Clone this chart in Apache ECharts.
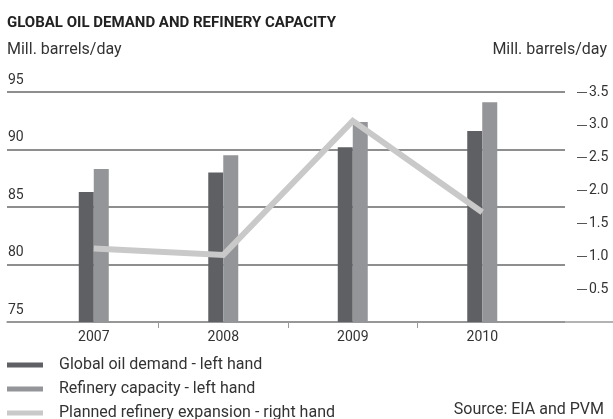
<!DOCTYPE html>
<html>
<head>
<meta charset="utf-8">
<script src="https://cdn.jsdelivr.net/npm/echarts@6/dist/echarts.min.js"></script>
<style>
  html, body { margin: 0; padding: 0; background: #fff; }
  #chart { width: 613px; height: 419px; }
</style>
</head>
<body>
<div id="chart"></div>
<script>
// Years on the category axis
const years = ['2007', '2008', '2009', '2010'];
// Mill. barrels/day, left hand axis
const oilDemand = [86.3, 88.0, 90.2, 91.6];
const refineryCapacity = [88.3, 89.5, 92.4, 94.1];
// Mill. barrels/day, right hand axis
const plannedExpansion = [1.12, 1.02, 3.06, 1.67];
// Axis ticks
const leftTicks = [75, 80, 85, 90, 95];
const rightTicks = [0.5, 1.0, 1.5, 2.0, 2.5, 3.0, 3.5];

const FONT = 'Roboto, "Noto Sans", sans-serif';
const TEXT = '#333333';
const GRID_LINE = '#8e8e8e';
const C_DEMAND = '#5f6063';
const C_CAPACITY = '#949598';
const C_EXPANSION = '#c9c9c9';

// Years sit at x = 0,1,2,3 on a value axis so the plot area can run past the last band
const X_MIN = -0.67;
const X_MAX_PLOT = 3.639;
const X_MAX_AXIS = 4.009;

const pairs = arr => arr.map((v, i) => [i, v]);

const chart = echarts.init(document.getElementById('chart'), null, { renderer: 'canvas' });

chart.setOption({
  animation: false,
  textStyle: { fontFamily: FONT },
  title: [
    { text: 'GLOBAL OIL DEMAND AND REFINERY CAPACITY', left: 7, top: 16, padding: 0,
      textStyle: { fontFamily: FONT, fontSize: 15, fontWeight: 'bold', color: '#222' } },
    { text: 'Mill. barrels/day', left: 7, top: 42, padding: 0,
      textStyle: { fontFamily: FONT, fontSize: 16, fontWeight: 'normal', color: TEXT } },
    { text: 'Mill. barrels/day', right: 6, top: 42, padding: 0,
      textStyle: { fontFamily: FONT, fontSize: 16, fontWeight: 'normal', color: TEXT } },
    { text: 'Source: EIA and PVM', right: 9, top: 402, padding: 0,
      textStyle: { fontFamily: FONT, fontSize: 16, fontWeight: 'normal', color: TEXT } }
  ],
  legend: {
    orient: 'vertical',
    left: 7,
    top: 357,
    height: 90,
    padding: 0,
    itemWidth: 36,
    itemHeight: 5,
    itemGap: 8,
    icon: 'rect',
    textStyle: { fontFamily: FONT, fontSize: 16, color: TEXT, lineHeight: 16, padding: [0, 0, 0, 11] },
    data: [
      { name: 'Global oil demand - left hand', icon: 'rect' },
      { name: 'Refinery capacity - left hand', icon: 'rect' },
      { name: 'Planned refinery expansion - right hand', icon: 'rect' }
    ]
  },
  grid: [
    { left: 7, right: 48, top: 92, bottom: 97 },
    { left: 7, right: 0, top: 92, bottom: 97 }
  ],
  xAxis: [
    { type: 'value', gridIndex: 0, min: X_MIN, max: X_MAX_PLOT, show: false },
    {
      type: 'value', gridIndex: 1, min: X_MIN, max: X_MAX_AXIS,
      axisLine: { show: true, onZero: false, lineStyle: { color: '#9a9a9a', width: 1.5 } },
      axisTick: { show: true, length: 6, customValues: [0.5, 1.5, 2.5], lineStyle: { color: '#9a9a9a', width: 1 } },
      axisLabel: {
        show: true, margin: 8, fontSize: 14, color: TEXT, fontFamily: FONT,
        customValues: [0, 1, 2, 3],
        formatter: v => years[Math.round(v)]
      },
      splitLine: { show: false }
    }
  ],
  yAxis: [
    {
      type: 'value', gridIndex: 0, position: 'left', min: 75, max: 95, interval: 5,
      axisLine: { show: false },
      axisTick: { show: false },
      axisLabel: {
        inside: true, margin: 1, fontSize: 14, color: TEXT, fontFamily: FONT,
        verticalAlign: 'bottom', padding: [0, 0, 5, 0],
        customValues: leftTicks
      },
      splitLine: { show: true, lineStyle: { color: GRID_LINE, width: 2 } }
    },
    {
      type: 'value', gridIndex: 0, position: 'right', offset: 12, min: 0, max: 3.5,
      axisLine: { show: false },
      axisTick: { show: true, inside: false, length: 10, customValues: rightTicks,
        lineStyle: { color: '#555', width: 1 } },
      axisLabel: {
        margin: 12, fontSize: 14, color: TEXT, fontFamily: FONT,
        customValues: rightTicks,
        formatter: v => v.toFixed(1)
      },
      splitLine: { show: false }
    },
    { type: 'value', gridIndex: 1, show: false, min: 0, max: 1 }
  ],
  series: [
    {
      name: 'Global oil demand - left hand',
      type: 'bar', xAxisIndex: 0, yAxisIndex: 0,
      data: pairs(oilDemand),
      barWidth: 15, barGap: '0%',
      itemStyle: { color: C_DEMAND }
    },
    {
      name: 'Refinery capacity - left hand',
      type: 'bar', xAxisIndex: 0, yAxisIndex: 0,
      data: pairs(refineryCapacity),
      barWidth: 15, barGap: '0%',
      itemStyle: { color: C_CAPACITY }
    },
    {
      name: 'Planned refinery expansion - right hand',
      type: 'line', xAxisIndex: 0, yAxisIndex: 1,
      data: pairs(plannedExpansion),
      symbol: 'none',
      color: C_EXPANSION,
      lineStyle: { color: C_EXPANSION, width: 6, cap: 'butt', join: 'miter' },
      itemStyle: { color: C_EXPANSION },
      z: 5
    }
  ]
});
</script>
</body>
</html>
